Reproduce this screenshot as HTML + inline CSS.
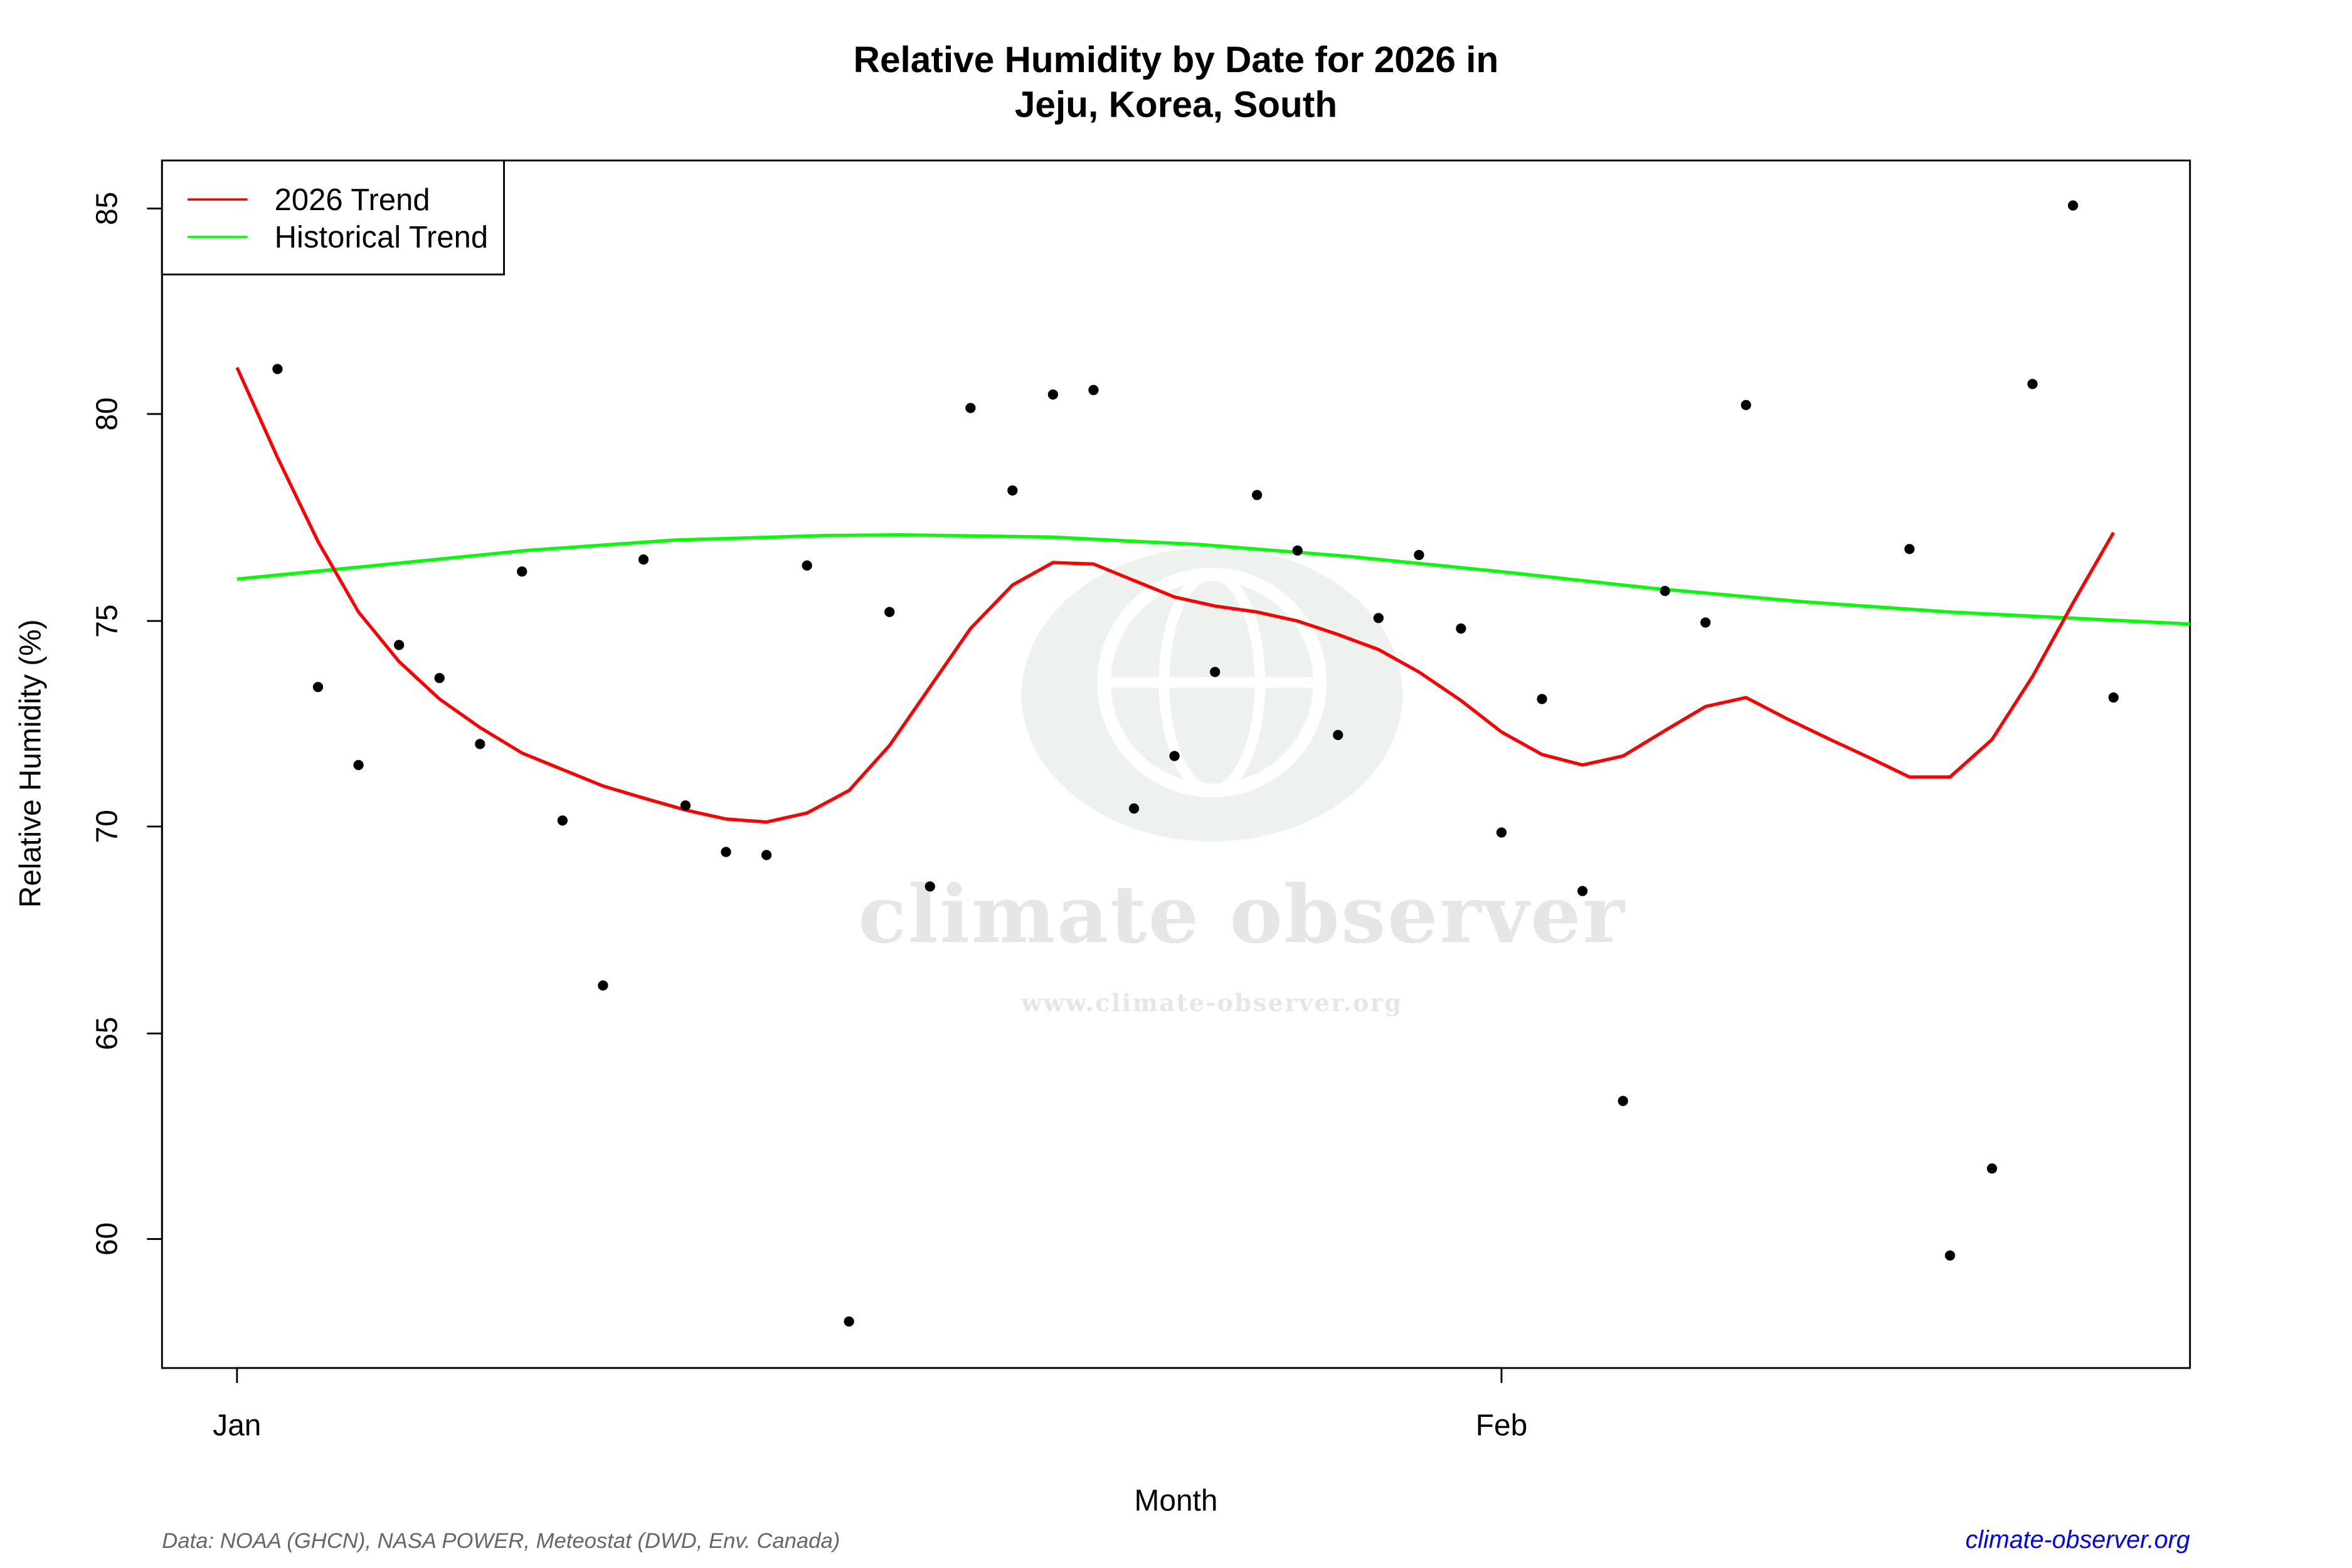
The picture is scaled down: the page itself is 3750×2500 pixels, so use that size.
<!DOCTYPE html>
<html><head><style>html,body{margin:0;padding:0;background:#fff}svg{display:block}</style></head>
<body>
<svg width="3750" height="2500" viewBox="0 0 1568 1045.33" xmlns="http://www.w3.org/2000/svg" font-family="Liberation Sans, sans-serif">
<rect width="1568" height="1045.33" fill="#fff"/>
<ellipse cx="808" cy="463" rx="127" ry="98" fill="#eef2ee"/>
<circle cx="808" cy="455" r="72" fill="none" stroke="#fff" stroke-width="9"/>
<line x1="736" y1="455" x2="880" y2="455" stroke="#fff" stroke-width="7"/>
<ellipse cx="808" cy="455" rx="32" ry="72" fill="none" stroke="#fff" stroke-width="7"/>
<text x="828" y="628" text-anchor="middle" font-family="DejaVu Serif, serif" font-weight="bold" font-size="53" letter-spacing="1" fill="#e6e6e6">climate observer</text>
<text x="808" y="674" text-anchor="middle" font-family="DejaVu Serif, serif" font-weight="bold" font-size="16" letter-spacing="1" fill="#e6e6e6">www.climate-observer.org</text>
<text x="784" y="48" text-anchor="middle" font-weight="bold" font-size="24.5">Relative Humidity by Date for 2026 in</text>
<text x="784" y="78" text-anchor="middle" font-weight="bold" font-size="24.5">Jeju, Korea, South</text>
<rect x="108" y="107" width="1352" height="805" fill="none" stroke="#000" stroke-width="1.2"/>
<g stroke="#000" stroke-width="1.2">
<line x1="108" y1="139" x2="108" y2="826"/>
<line x1="98" y1="139" x2="108" y2="139"/><line x1="98" y1="276" x2="108" y2="276"/>
<line x1="98" y1="414" x2="108" y2="414"/><line x1="98" y1="551" x2="108" y2="551"/>
<line x1="98" y1="689" x2="108" y2="689"/><line x1="98" y1="826" x2="108" y2="826"/>
<line x1="158" y1="912" x2="1001" y2="912"/>
<line x1="158" y1="912" x2="158" y2="922"/><line x1="1001" y1="912" x2="1001" y2="922"/>
</g>
<g font-size="20" text-anchor="middle">
<text transform="translate(78,139) rotate(-90)">85</text>
<text transform="translate(78,276) rotate(-90)">80</text>
<text transform="translate(78,414) rotate(-90)">75</text>
<text transform="translate(78,551) rotate(-90)">70</text>
<text transform="translate(78,689) rotate(-90)">65</text>
<text transform="translate(78,826) rotate(-90)">60</text>
<text x="158" y="957">Jan</text>
<text x="1001" y="957">Feb</text>
<text x="784" y="1007">Month</text>
<text transform="translate(27,509) rotate(-90)">Relative Humidity (%)</text>
</g>
<polyline fill="none" stroke="#00ff00" stroke-width="2.2" points="158,386 250,377 350,367 450,360 550,357 600,356.5 700,358 800,363 900,371 1000,381 1100,392 1200,401 1300,408 1400,413 1460,416"/>
<polyline fill="none" stroke="#ff0000" stroke-width="2.2" points="158,245 185,305 212,361 239,408 266,441 293,466 320,485 348,502 375,513 402,524 429,532 457,540 484,546 511,548 538,542 566,527 593,497 620,458 647,419 675,390 702,375 729,376 756,387 783,398 810,404 838,408 865,414 892,423 919,433 946,448 974,467 1001,488 1028,503 1055,510 1082,504 1110,487 1137,471 1164,465 1191,479 1218,492 1246,505 1273,518 1300,518 1328,493 1355,451 1382,402 1409,355"/>
<g fill="#000">
<circle cx="185" cy="246" r="3.4"/><circle cx="212" cy="458" r="3.4"/><circle cx="239" cy="510" r="3.4"/><circle cx="266" cy="430" r="3.4"/><circle cx="293" cy="452" r="3.4"/><circle cx="320" cy="496" r="3.4"/><circle cx="348" cy="381" r="3.4"/><circle cx="375" cy="547" r="3.4"/><circle cx="402" cy="657" r="3.4"/><circle cx="429" cy="373" r="3.4"/><circle cx="457" cy="537" r="3.4"/><circle cx="484" cy="568" r="3.4"/><circle cx="511" cy="570" r="3.4"/><circle cx="538" cy="377" r="3.4"/><circle cx="566" cy="881" r="3.4"/><circle cx="593" cy="408" r="3.4"/><circle cx="620" cy="591" r="3.4"/><circle cx="647" cy="272" r="3.4"/><circle cx="675" cy="327" r="3.4"/><circle cx="702" cy="263" r="3.4"/><circle cx="729" cy="260" r="3.4"/><circle cx="756" cy="539" r="3.4"/><circle cx="783" cy="504" r="3.4"/><circle cx="810" cy="448" r="3.4"/><circle cx="838" cy="330" r="3.4"/><circle cx="865" cy="367" r="3.4"/><circle cx="892" cy="490" r="3.4"/><circle cx="919" cy="412" r="3.4"/><circle cx="946" cy="370" r="3.4"/><circle cx="974" cy="419" r="3.4"/><circle cx="1001" cy="555" r="3.4"/><circle cx="1028" cy="466" r="3.4"/><circle cx="1055" cy="594" r="3.4"/><circle cx="1082" cy="734" r="3.4"/><circle cx="1110" cy="394" r="3.4"/><circle cx="1137" cy="415" r="3.4"/><circle cx="1164" cy="270" r="3.4"/><circle cx="1273" cy="366" r="3.4"/><circle cx="1300" cy="837" r="3.4"/><circle cx="1328" cy="779" r="3.4"/><circle cx="1355" cy="256" r="3.4"/><circle cx="1382" cy="137" r="3.4"/><circle cx="1409" cy="465" r="3.4"/>
</g>
<rect x="108" y="107" width="228" height="76" fill="#fff" stroke="#000" stroke-width="1.2"/>
<line x1="125" y1="133" x2="165" y2="133" stroke="#ff0000" stroke-width="1.5"/>
<line x1="125" y1="158" x2="165" y2="158" stroke="#00ff00" stroke-width="1.5"/>
<text x="183" y="140" font-size="20.5">2026 Trend</text>
<text x="183" y="165" font-size="20.5">Historical Trend</text>
<text x="108" y="1032" font-size="14.5" font-style="italic" fill="#666">Data: NOAA (GHCN), NASA POWER, Meteostat (DWD, Env. Canada)</text>
<text x="1460" y="1032" font-size="16.5" font-style="italic" fill="#0000ff" text-anchor="end">climate-observer.org</text>
</svg>
</body></html>
